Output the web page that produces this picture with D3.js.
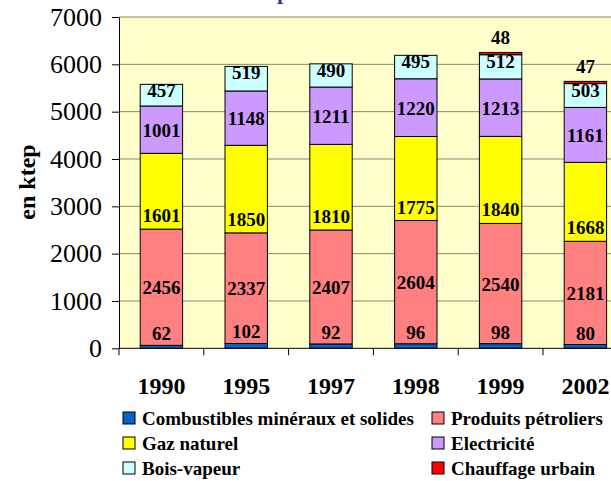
<!DOCTYPE html>
<html>
<head>
<meta charset="utf-8">
<script src="https://cdn.jsdelivr.net/npm/d3@7"></script>
<style>
  body { margin: 0; background: #fff; }
  svg { display: block; font-family: "Liberation Serif", "Times New Roman", serif; }
</style>
</head>
<body>
<div id="chart"></div>
<script>
// values (ktep)
const years = ['1990', '1995', '1997', '1998', '1999', '2002']
const combustibles = [62, 102, 92, 96, 98, 80]
const petroliers = [2456, 2337, 2407, 2604, 2540, 2181]
const gaz = [1601, 1850, 1810, 1775, 1840, 1668]
const electricite = [1001, 1148, 1211, 1220, 1213, 1161]
const bois = [457, 519, 490, 495, 512, 503]
const chauffage = [0, 0, 0, 0, 48, 47]
const seriesNames = ['Combustibles minéraux et solides', 'Produits pétroliers', 'Gaz naturel',
                     'Electricité', 'Bois-vapeur', 'Chauffage urbain']
const yTicks = [0, 1000, 2000, 3000, 4000, 5000, 6000, 7000]
const yTitle = 'en ktep'
const title = 'Consommation finale par source'

const W = 611, H = 481
const margin = { top: 17, left: 119, bottom: 348.3 }
const colors = ['#0066cc', '#ff8080', '#ffff00', '#cc99ff', '#ccffff', '#ff0000']

const rows = years.map((yr, i) => {
    const r = { year: yr }
    r[seriesNames[0]] = combustibles[i]
    r[seriesNames[1]] = petroliers[i]
    r[seriesNames[2]] = gaz[i]
    r[seriesNames[3]] = electricite[i]
    r[seriesNames[4]] = bois[i]
    r[seriesNames[5]] = chauffage[i]
    return r
})
const stacked = d3.stack().keys(seriesNames)(rows)

const svg = d3.select('#chart').append('svg')
    .attr('width', W).attr('height', H)

var x = d3.scaleBand().domain(years)
    .range([margin.left, margin.left + 6 * 84.8])
    .paddingInner(0.5).paddingOuter(0.25)
var y = d3.scaleLinear().domain([0, 7000]).range([margin.bottom, margin.top])

// title, mostly cut off by the top edge (as in the picture)
const t = svg.append('text')
    .attr('y', -1.5)
    .attr('font-size', 22).attr('font-weight', 'bold').attr('fill', '#333399')
    .text(title)
const pIdx = title.indexOf('p')
const px = t.node().getStartPositionOfChar(pIdx).x
t.attr('x', 277 - px)

// plot background
svg.append('rect')
    .attr('x', margin.left).attr('y', margin.top)
    .attr('width', W - margin.left).attr('height', margin.bottom - margin.top)
    .attr('fill', '#ffffcc')

// gridlines
svg.append('g').selectAll('line').data(yTicks.filter(d => d > 0)).join('line')
    .attr('x1', margin.left).attr('x2', W)
    .attr('y1', d => y(d)).attr('y2', d => y(d))
    .attr('stroke', '#86866e').attr('stroke-width', 1)

// bars
const layer = svg.append('g').selectAll('g').data(stacked).join('g')
    .attr('fill', (d, i) => colors[i])
layer.selectAll('rect').data(d => d.filter(s => s[1] - s[0] > 0)).join('rect')
    .attr('x', d => x(d.data.year))
    .attr('width', x.bandwidth())
    .attr('y', d => y(d[1]))
    .attr('height', d => y(d[0]) - y(d[1]))
    .attr('stroke', '#000').attr('stroke-width', 1)

// data labels: baseline position per series, roughly as placed in the picture
function labelY(k, d) {
    const top = y(d[1]), bot = y(d[0])
    if (k === 0) return top - 5          // thin segment: above it
    if (k === 2) return bot - 7          // gaz: low in the segment
    if (k === 4) return top + 13         // bois: near the top
    if (k === 5) return top - 8          // chauffage: above the bar
    return (top + bot) / 2 + 7
}
stacked.forEach((s, k) => {
    svg.append('g').selectAll('text').data(s.filter(d => d[1] - d[0] > 0)).join('text')
        .attr('x', d => x(d.data.year) + x.bandwidth() / 2)
        .attr('y', d => labelY(k, d))
        .attr('text-anchor', 'middle')
        .attr('font-size', 19).attr('font-weight', 'bold')
        .text(d => d[1] - d[0])
})

// y axis
const yAxis = svg.append('g')
    .attr('transform', `translate(${margin.left},0)`)
    .call(d3.axisLeft(y).tickValues(yTicks).tickFormat(d3.format('d'))
        .tickSize(7).tickPadding(10).tickSizeOuter(0))
yAxis.select('.domain').attr('stroke', '#000')
yAxis.selectAll('.tick line').attr('stroke', '#000')
yAxis.selectAll('text')
    .attr('font-size', 26).attr('font-family', '"Liberation Serif", serif').attr('fill', '#000')

// x axis line with ticks between categories
svg.append('line')
    .attr('x1', margin.left).attr('x2', W)
    .attr('y1', margin.bottom).attr('y2', margin.bottom)
    .attr('stroke', '#000')
const off = x.step() * x.paddingOuter()
svg.append('g').selectAll('line').data(years).join('line')
    .attr('x1', d => x(d) - off).attr('x2', d => x(d) - off)
    .attr('y1', margin.bottom).attr('y2', margin.bottom + 7)
    .attr('stroke', '#000')
svg.append('g').selectAll('text').data(years).join('text')
    .attr('x', d => x(d) + x.bandwidth() / 2)
    .attr('y', 394)
    .attr('text-anchor', 'middle')
    .attr('font-size', 24).attr('font-weight', 'bold')
    .text(d => d)

// y title
svg.append('text')
    .attr('transform', 'translate(35,182) rotate(-90)')
    .attr('text-anchor', 'middle')
    .attr('font-size', 24).attr('font-weight', 'bold')
    .text(yTitle)

// legend, two columns
const legend = svg.append('g').selectAll('g').data(seriesNames).join('g')
    .attr('transform', (d, i) => `translate(${i % 2 ? 432 : 123},${412 + Math.floor(i / 2) * 25})`)
legend.append('rect')
    .attr('width', 12).attr('height', 12)
    .attr('fill', (d, i) => colors[i])
    .attr('stroke', '#000').attr('stroke-width', 1)
legend.append('text')
    .attr('x', 19).attr('y', 12.5)
    .attr('font-size', 19).attr('font-weight', 'bold')
    .text(d => d)
</script>
</body>
</html>
